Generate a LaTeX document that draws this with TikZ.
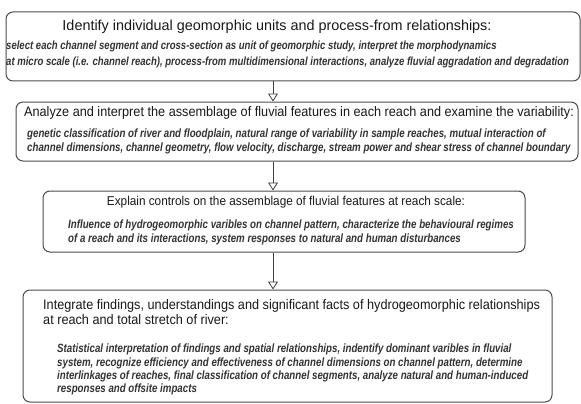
\documentclass[tikz,border=0pt]{standalone}
\usepackage{fontspec}
\setmainfont{Liberation Sans}
\newfontfamily\narrowfont{Liberation Sans}[FakeStretch=0.92]
\newfontfamily\bodyfont{Liberation Sans}[FakeStretch=0.81]
\usetikzlibrary{arrows.meta}

\begin{document}
\begin{tikzpicture}[x=1pt, y=-1pt,
every edge/.style = {draw=black!75, thick,
      -{Triangle[open, width=10pt, length=8pt]}},
 stage/.style args = {#1/#2}{%
      rectangle, rounded corners=7pt, draw=black!70, line width=1pt,
      fill=white, minimum width=#1, minimum height=#2, inner sep=0pt},
 stagetitle/.style = {anchor=base, inner sep=0pt, text=black!90,
      font=\fontsize{13.8}{15}\narrowfont},
 stagetext/.style = {anchor=north west, inner sep=0pt, align=left,
      text=black!80, font=\fontsize{12}{14}\bodyfont\bfseries\itshape}
                    ]
\useasboundingbox (0,0) rectangle (581,404);
\coordinate (ax) at (273,0);
%
\node(b1) [stage=574pt/69pt] at (293,46.5) {};
\node(h1) [stagetitle, font=\fontsize{14.4}{16}\selectfont] at (277,31)
      {Identify individual geomorphic units and process-from relationships:};
\node(d1) [stagetext, font=\fontsize{11.8}{15.5}\bodyfont\bfseries\itshape] at (6,41)
      {select each channel segment and cross-section as unit of geomorphic study, interpret the morphodynamics\\
       at micro scale (i.e. channel reach), process-from multidimensional interactions, analyze fluvial aggradation and degradation};
%
\node(b2) [stage=562pt/59pt] at (297,131.5) {};
\node(h2) [stagetitle] at (299,116)
      {Analyze and interpret the assemblage of fluvial features in each reach and examine the variability:};
\node(d2) [stagetext] at (27,128.4)
      {genetic classification of river and floodplain, natural range of variability in sample reaches, mutual interaction of\\
       channel dimensions, channel geometry, flow velocity, discharge, stream power and shear stress of channel boundary};
%
\node(b3) [stage=482pt/61pt] at (284,221.5) {};
\node(h3) [stagetitle, font=\fontsize{12.8}{14}\narrowfont] at (286,205)
      {Explain controls on the assemblage of fluvial features at reach scale:};
\node(d3) [stagetext] at (68,219.4)
      {Influence of hydrogeomorphic varibles on channel pattern, characterize the behavioural regimes\\
       of a reach and its interactions, system responses to natural and human disturbances};
%
\node(b4) [stage=529pt/112pt] at (287.5,346) {};
\node(h4) [stagetitle, anchor=north west, align=left] at (43,299)
      {Integrate findings, understandings and significant facts of hydrogeomorphic relationships\\
       at reach and total stretch of river:};
\node(d4) [stagetext, font=\fontsize{12}{13.2}\bodyfont\bfseries\itshape] at (57,344)
      {Statistical interpretation of findings and spatial relationships, indentify dominant varibles in fluvial\\
       system, recognize efficiency and effectiveness of channel dimensions on channel pattern, determine\\
       interlinkages of reaches, final classification of channel segments, analyze natural and human-induced\\
       responses and offsite impacts};
%
\path   (b1.south -| ax)  edge (b2.north -| ax);
\path   (b2.south -| ax)  edge (b3.north -| ax);
\path   (b3.south -| ax)  edge (b4.north -| ax);
\end{tikzpicture}
\end{document}
